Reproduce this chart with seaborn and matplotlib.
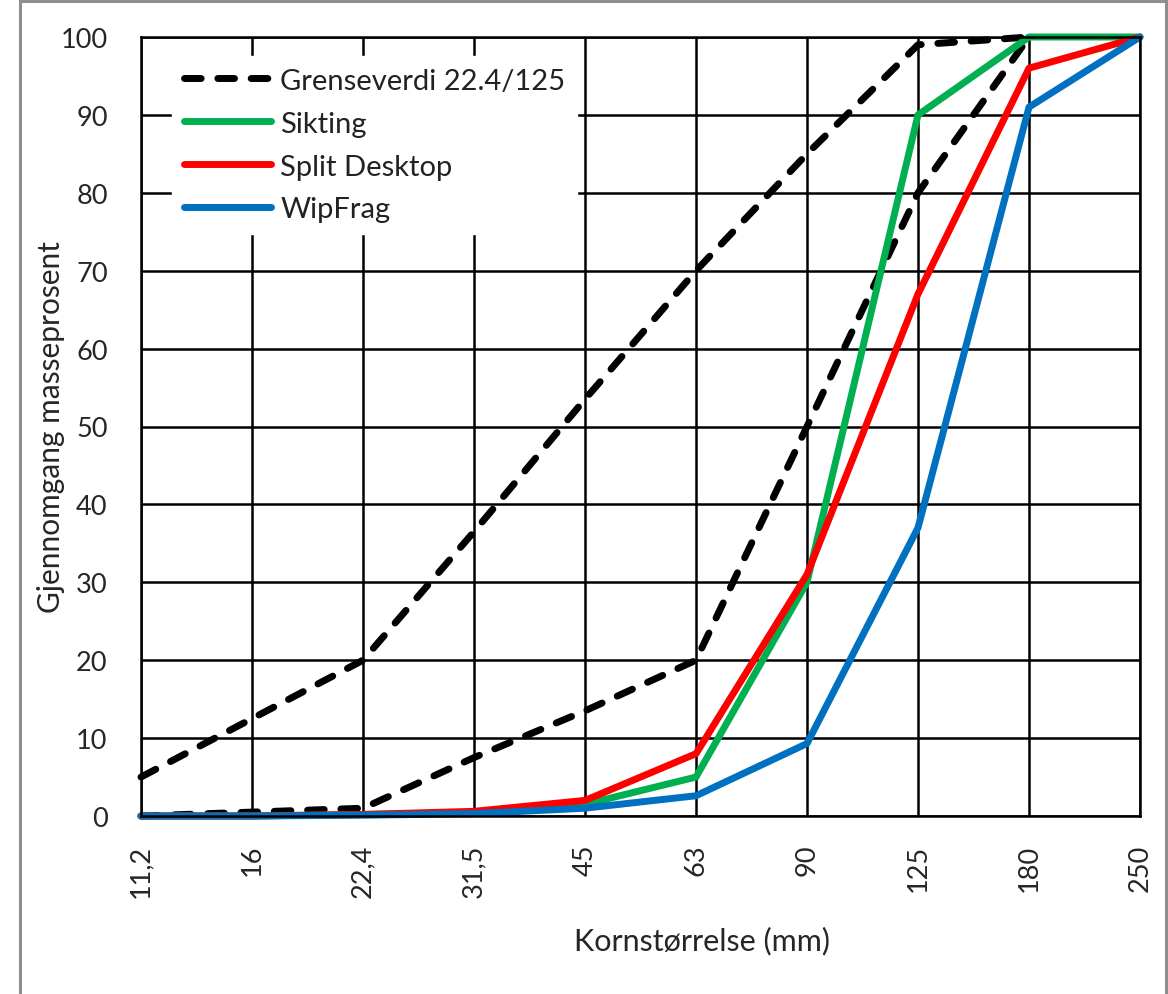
import numpy as np
import pandas as pd
import seaborn as sns
import matplotlib.pyplot as plt
from matplotlib.patches import Rectangle

# sieve sizes (mm), categories on the x axis
sizes = ["11,2", "16", "22,4", "31,5", "45", "63", "90", "125", "180", "250"]

# limit curves for 22.4/125 (both drawn as one dashed series)
limit_upper = [5, 12.5, 20, 36.5, 53.5, 70, 85, 99, 100, np.nan]
limit_lower = [0, 0.5, 1, 7.5, 13.5, 20, 50, 80, 100, np.nan]

# measured curves
sikting = [0, 0, 0.2, 0.4, 1.5, 5, 30, 90, 100, 100]
split_desktop = [0, 0, 0.2, 0.6, 2, 8, 31, 67, 96, 100]
wipfrag = [0, 0, 0.1, 0.3, 1, 2.6, 9.3, 37, 91, 100]

W, H = 1168, 995
sns.set_style("white")
plt.rcParams["font.family"] = ["Lato", "DejaVu Sans"]
plt.rcParams["text.color"] = "#222222"

fig = plt.figure(figsize=(W / 100, H / 100), dpi=100)
ax = fig.add_axes([141 / W, 1 - 817 / H, (1140 - 141) / W, (817 - 38) / H])

# outer chart frame (grey)
fig.add_artist(Rectangle((20 / W, -0.1), (1166 - 20) / W, 1.1 - 2 / H,
                         transform=fig.transFigure, fill=False,
                         edgecolor="#8e8e8e", lw=2.2))

x = np.arange(len(sizes))
dash = (0, (2.4, 2.4))
lw = 5.0

sns.lineplot(x=x, y=limit_upper, ax=ax, color="black", lw=lw, linestyle=dash,
             dash_capstyle="round", label="Grenseverdi 22.4/125", clip_on=False)
sns.lineplot(x=x, y=limit_lower, ax=ax, color="black", lw=lw, linestyle=dash,
             dash_capstyle="round", clip_on=False)
sns.lineplot(x=x, y=sikting, ax=ax, color="#00B050", lw=lw, label="Sikting",
             solid_capstyle="round", clip_on=False)
sns.lineplot(x=x, y=split_desktop, ax=ax, color="#FF0000", lw=lw,
             label="Split Desktop", solid_capstyle="round", clip_on=False)
sns.lineplot(x=x, y=wipfrag, ax=ax, color="#0070C0", lw=lw, label="WipFrag",
             solid_capstyle="round", clip_on=False)

ax.set_xlim(0, 9)
ax.set_ylim(0, 100)
ax.set_xticks(x)
ax.set_xticklabels(sizes, rotation=90, fontsize=19.5)
ax.set_yticks(np.arange(0, 101, 10))
ax.tick_params(axis="y", length=0, pad=24, labelsize=19.5)
ax.tick_params(axis="x", length=0, pad=20)
ax.set_axisbelow(True)
ax.grid(True, color="black", lw=1.8)
for sp in ax.spines.values():
    sp.set_color("black")
    sp.set_linewidth(1.8)

ax.set_ylabel("Gjennomgang masseprosent", fontsize=21.5)
ax.yaxis.set_label_coords((65 - 141) / 999, 0.5)
ax.set_xlabel("Kornstørrelse (mm)", fontsize=22)
ax.xaxis.set_label_coords((702 - 141) / 999, -(927 - 817) / 779)

leg = ax.legend(loc="upper left", bbox_to_anchor=(172 / W, 1 - 57 / H),
                bbox_transform=fig.transFigure, fontsize=21, frameon=True,
                fancybox=False, framealpha=1, edgecolor="white",
                facecolor="white", borderaxespad=0, borderpad=0.4,
                handlelength=3.0, handletextpad=0.32, labelspacing=0.58)
for line in leg.get_lines():
    line.set_linewidth(lw)

fig.savefig("out.png", dpi=100)
